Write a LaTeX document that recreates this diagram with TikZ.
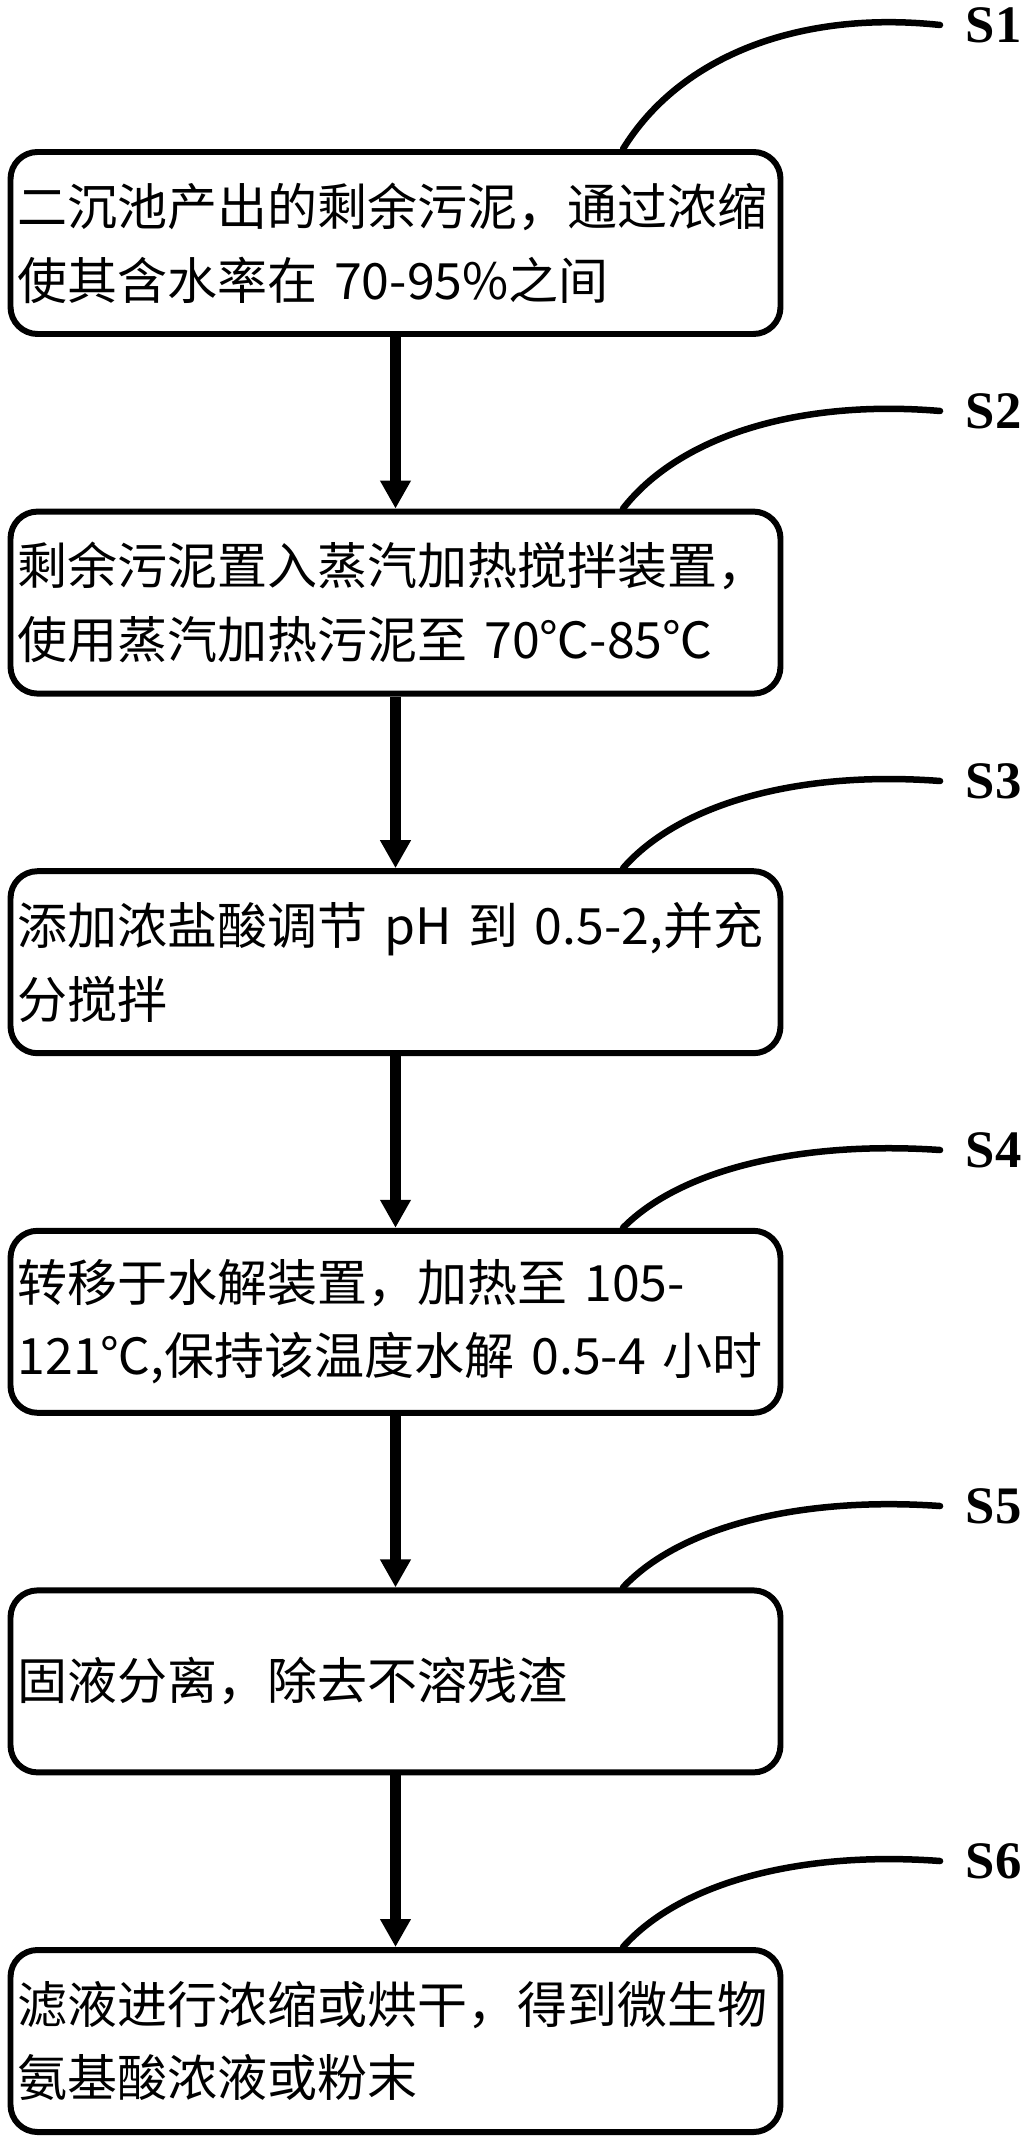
\documentclass[tikz,border=0pt]{standalone}
\usepackage{fontspec}
\setmainfont{Liberation Serif}
\newfontfamily\cjkfont{Noto Sans CJK SC}
\usetikzlibrary{arrows.meta}
\begin{document}
\begin{tikzpicture}[x=0.1mm,y=-0.1mm]
\tikzset{
  stepbox/.style={draw, line width=1.7pt, rounded corners=2.7mm,
    minimum width=77mm, minimum height=18.2mm, text width=75.6mm,
    inner xsep=0.7mm, inner ysep=0pt, align=left,
    font=\cjkfont\fontsize{14.23pt}{21pt}\selectfont},
  flow/.style={line width=3.1pt, -{Triangle[length=2.8mm,width=2.9mm]}},
  leader/.style={line width=1.85pt, line cap=round},
  slabel/.style={font=\bfseries\fontsize{15pt}{15pt}\selectfont, inner sep=0pt, anchor=west}
}
\useasboundingbox (0,0) rectangle (1031,2138);

\node[stepbox] (b1) at (395.5,243) {二沉池产出的剩余污泥，通过浓缩\\使其含水率在 70-95\%之间};
\node[stepbox] (b2) at (395.5,602.6) {剩余污泥置入蒸汽加热搅拌装置，\\使用蒸汽加热污泥至 70℃-85℃};
\node[stepbox] (b3) at (395.5,962.2) {添加浓盐酸调节 pH 到 0.5-2,并充\\分搅拌};
\node[stepbox] (b4) at (395.5,1321.8) {转移于水解装置，加热至 105-\\121℃,保持该温度水解 0.5-4 小时};
\node[stepbox] (b5) at (395.5,1681.4) {固液分离，除去不溶残渣};
\node[stepbox] (b6) at (395.5,2041) {滤液进行浓缩或烘干，得到微生物\\氨基酸浓液或粉末};

\draw[flow] (b1) -- (b2);
\draw[flow] (b2) -- (b3);
\draw[flow] (b3) -- (b4);
\draw[flow] (b4) -- (b5);
\draw[flow] (b5) -- (b6);

\node[slabel] (s1) at (965,25) {S1};
\node[slabel] (s2) at (965,411) {S2};
\node[slabel] (s3) at (965,781) {S3};
\node[slabel] (s4) at (965,1150) {S4};
\node[slabel] (s5) at (965,1506) {S5};
\node[slabel] (s6) at (965,1861) {S6};

\coordinate (e1) at ([xshift=-2.5mm]s1.west);
\coordinate (e2) at ([xshift=-2.5mm]s2.west);
\coordinate (e3) at ([xshift=-2.5mm]s3.west);
\coordinate (e4) at ([xshift=-2.5mm]s4.west);
\coordinate (e5) at ([xshift=-2.5mm]s5.west);
\coordinate (e6) at ([xshift=-2.5mm]s6.west);

\draw[leader] ([xshift=22.75mm]b1.north) .. controls (680,56) and (800,10) .. (e1);
\draw[leader] ([xshift=22.75mm]b2.north) .. controls (680,435.5) and (800,399.2) .. (e2);
\draw[leader] ([xshift=22.75mm]b3.north) .. controls (680,803) and (800,770.4) .. (e3);
\draw[leader] ([xshift=22.75mm]b4.north) .. controls (680,1169.75) and (800,1140.5) .. (e4);
\draw[leader] ([xshift=22.75mm]b5.north) .. controls (680,1526.5) and (800,1496.2) .. (e5);
\draw[leader] ([xshift=22.75mm]b6.north) .. controls (680,1882.75) and (800,1850.6) .. (e6);
\end{tikzpicture}
\end{document}
